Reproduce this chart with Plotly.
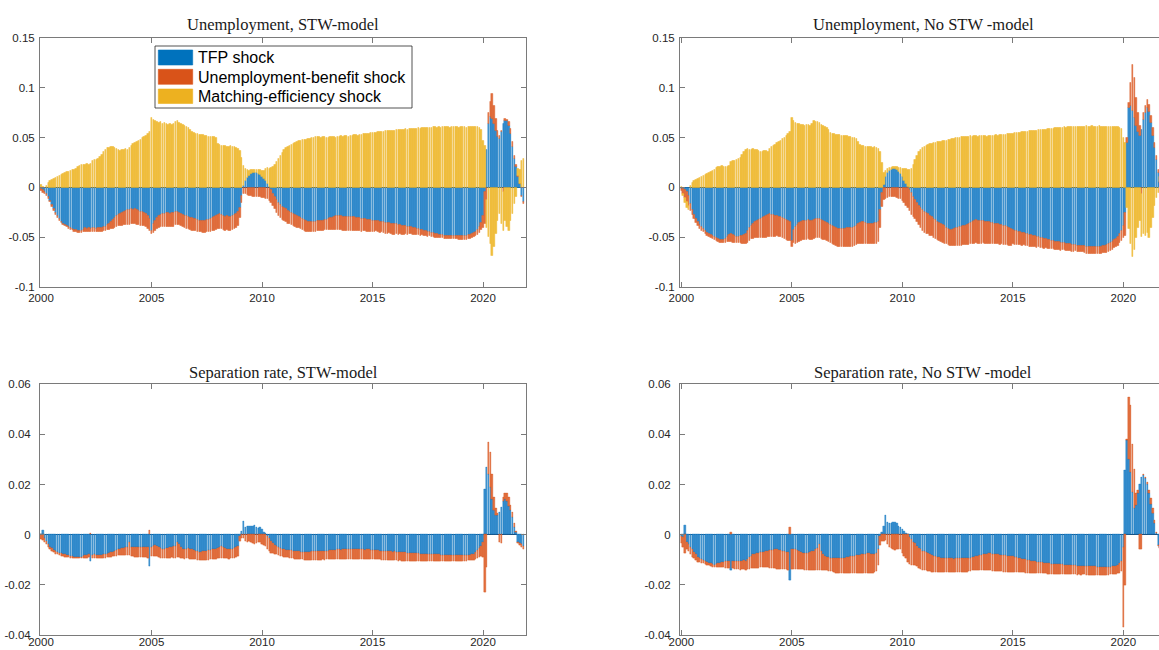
import numpy as np
import plotly.graph_objects as go

# ---------------- data (monthly, 2000M1 - 2021M11) ----------------
START_YEAR = 2000
N_MONTHS = 263

# Unemployment, STW-model (units: 0.001)
U_STW_TFP = [
    -1, -2, -4, -6, -9, -13, -17, -21, -25, -28, -31, -34,
    -36, -37, -38, -39, -40, -41, -42, -42, -43, -43, -43, -42,
    -40, -41, -40, -41, -40, -40, -41, -40, -40, -40, -39, -39,
    -37, -36, -34, -32, -30, -28, -27, -26, -25, -24, -23, -22,
    -22, -21, -22, -21, -22, -23, -24, -24, -25, -26, -28, -31,
    -43, -36, -33, -30, -28, -27, -26, -26, -25, -25, -26, -25,
    -25, -24, -24, -25, -26, -27, -28, -28, -29, -30, -30, -31,
    -31, -32, -33, -33, -33, -33, -32, -32, -31, -30, -29, -28,
    -27, -26, -27, -28, -29, -28, -29, -29, -28, -27, -26, -24,
    -20, -8, 2, 7, 10, 12, 14, 15, 15, 15, 14, 13,
    11, 9, 7, 4, 1, -2, -6, -9, -12, -15, -17, -19,
    -20, -21, -23, -24, -25, -26, -27, -28, -29, -30, -31, -32,
    -33, -34, -34, -34, -34, -34, -33, -33, -33, -33, -32, -32,
    -31, -30, -30, -29, -28, -28, -28, -28, -29, -29, -29, -29,
    -29, -29, -29, -30, -30, -30, -31, -31, -31, -32, -32, -32,
    -33, -33, -33, -33, -34, -34, -34, -35, -35, -35, -36, -36,
    -36, -36, -37, -37, -38, -38, -38, -39, -39, -39, -40, -40,
    -41, -41, -42, -42, -43, -43, -44, -44, -45, -45, -46, -46,
    -47, -47, -47, -48, -48, -48, -48, -48, -48, -48, -48, -48,
    -48, -48, -48, -48, -47, -47, -46, -45, -44, -42, -39, -35,
    -28, -4, 38, 64, 71, 69, 64, 57, 51, 49, 56, 64,
    67, 67, 62, 54, 41, 29, 21, 11, 4, -8, -14,
]
U_STW_UB = [
    -2, -3, -2, -2, -2, -1, -2, -2, -2, -2, -2, -1,
    -1, -1, -1, -2, -2, -1, -2, -2, -2, -2, -2, -2,
    -4, -3, -4, -3, -4, -4, -3, -4, -4, -4, -4, -4,
    -5, -6, -7, -9, -10, -11, -11, -12, -13, -13, -14, -15,
    -15, -15, -14, -15, -15, -14, -14, -14, -13, -13, -13, -12,
    -3, -9, -10, -11, -12, -12, -13, -13, -14, -14, -13, -14,
    -14, -13, -13, -12, -12, -12, -12, -13, -12, -12, -13, -12,
    -12, -12, -11, -11, -12, -12, -12, -12, -13, -13, -14, -14,
    -14, -15, -14, -14, -14, -14, -14, -14, -14, -14, -14, -14,
    -10, -7, -6, -6, -7, -8, -8, -9, -9, -9, -9, -9,
    -10, -10, -11, -11, -13, -13, -12, -12, -13, -13, -13, -13,
    -13, -13, -13, -12, -12, -12, -12, -12, -11, -11, -11, -11,
    -11, -10, -10, -10, -10, -10, -10, -10, -10, -10, -10, -10,
    -11, -12, -12, -13, -14, -14, -14, -14, -14, -14, -14, -14,
    -14, -14, -14, -13, -13, -13, -13, -12, -12, -12, -12, -12,
    -11, -11, -10, -11, -11, -10, -11, -11, -11, -10, -10, -11,
    -11, -10, -10, -9, -9, -9, -8, -8, -7, -7, -7, -7,
    -6, -6, -6, -5, -5, -5, -5, -4, -4, -4, -4, -4,
    -3, -3, -3, -3, -3, -3, -3, -3, -3, -3, -3, -4,
    -4, -4, -4, -4, -4, -4, -4, -4, -4, -5, -6, -7,
    -12, -32, -12, 11, 15, 25, 18, 12, 6, 3, 1, -4,
    2, 1, 4, 5, 5, 3, 2, 1, 0, -1, -2,
]
U_STW_ME = [
    3, 1, 0, 2, 5, 7, 8, 9, 10, 11, 12, 13,
    14, 15, 16, 16, 17, 18, 18, 19, 21, 22, 23, 23,
    23, 24, 23, 24, 27, 28, 28, 29, 31, 33, 36, 38,
    40, 40, 41, 41, 40, 39, 38, 37, 38, 38, 39, 38,
    40, 42, 44, 45, 46, 47, 48, 50, 51, 52, 54, 56,
    70, 68, 67, 66, 65, 66, 64, 65, 64, 63, 64, 63,
    64, 66, 67, 65, 64, 63, 62, 61, 60, 58, 56, 55,
    54, 54, 53, 53, 53, 52, 52, 51, 51, 51, 51, 50,
    44, 43, 42, 42, 42, 41, 41, 42, 41, 41, 40, 39,
    37, 30, 20, 12, 8, 5, 4, 3, 3, 3, 4, 5,
    6, 8, 12, 16, 18, 20, 21, 23, 26, 29, 32, 35,
    38, 40, 41, 42, 43, 44, 45, 46, 47, 47, 48, 48,
    48, 49, 49, 50, 50, 51, 51, 51, 50, 51, 51, 50,
    50, 51, 51, 51, 50, 51, 51, 52, 51, 52, 52, 51,
    52, 52, 53, 53, 52, 53, 53, 54, 54, 54, 54, 55,
    55, 55, 55, 56, 56, 56, 56, 57, 57, 57, 57, 57,
    57, 58, 58, 58, 58, 58, 59, 58, 59, 59, 59, 59,
    59, 60, 59, 60, 60, 60, 60, 60, 60, 61, 61, 60,
    61, 60, 61, 61, 61, 61, 60, 61, 61, 61, 61, 60,
    61, 61, 61, 60, 61, 61, 61, 61, 61, 61, 60, 58,
    47, 42, -28, -49, -56, -68, -59, -46, -33, -26, -36, -39,
    -33, -39, -43, -33, -26, -16, -9, 7, 14, 27, 29,
]

# Unemployment, No STW -model (units: 0.001)
U_NO_TFP = [
    -1, -1, -2, -4, -8, -16, -22, -27, -31, -34, -37, -39,
    -41, -43, -45, -46, -47, -48, -49, -50, -51, -52, -52, -52,
    -51, -49, -47, -46, -47, -48, -49, -49, -48, -48, -47, -46,
    -43, -40, -38, -36, -34, -33, -32, -31, -30, -29, -28, -27,
    -26, -27, -27, -28, -28, -29, -29, -30, -31, -32, -33, -34,
    -53, -42, -39, -37, -35, -34, -33, -33, -33, -32, -33, -33,
    -32, -31, -31, -31, -32, -33, -34, -35, -36, -37, -38, -39,
    -40, -41, -41, -41, -41, -41, -40, -40, -40, -40, -39, -38,
    -36, -35, -34, -34, -35, -36, -36, -36, -36, -35, -35, -34,
    -22, -5, 3, 11, 15, 17, 18, 19, 19, 18, 16, 14,
    11, 7, 4, 1, -2, -5, -9, -12, -15, -18, -20, -22,
    -24, -25, -26, -28, -29, -31, -32, -34, -35, -36, -37, -38,
    -40, -41, -42, -42, -41, -40, -40, -39, -39, -38, -38, -37,
    -36, -35, -34, -33, -32, -33, -33, -33, -33, -34, -34, -34,
    -35, -35, -36, -36, -36, -37, -37, -38, -38, -39, -40, -41,
    -42, -43, -43, -44, -44, -45, -45, -46, -46, -47, -47, -48,
    -48, -49, -49, -50, -50, -51, -51, -52, -52, -53, -53, -54,
    -54, -54, -55, -55, -55, -56, -56, -56, -57, -57, -57, -58,
    -58, -58, -58, -58, -59, -59, -59, -59, -59, -59, -59, -59,
    -59, -58, -58, -57, -56, -55, -54, -52, -51, -49, -46, -43,
    -38, -25, 45, 80, 82, 77, 70, 62, 56, 52, 58, 68,
    75, 80, 76, 65, 52, 40, 28, 15, 5, -5, -12,
]
U_NO_UB = [
    -2, -5, -8, -10, -10, -7, -5, -4, -4, -4, -4, -4,
    -3, -3, -3, -3, -3, -3, -3, -3, -3, -3, -3, -3,
    -4, -5, -7, -8, -8, -7, -6, -6, -7, -8, -9, -10,
    -12, -13, -13, -15, -16, -17, -18, -19, -20, -21, -22, -22,
    -23, -22, -22, -21, -20, -20, -20, -20, -20, -20, -20, -19,
    -6, -13, -17, -18, -19, -19, -19, -19, -19, -19, -19, -19,
    -19, -19, -19, -19, -19, -19, -18, -18, -18, -18, -18, -18,
    -18, -18, -18, -18, -18, -18, -19, -19, -19, -19, -19, -19,
    -20, -21, -22, -22, -21, -20, -20, -20, -20, -21, -21, -20,
    -18, -14, -12, -11, -10, -9, -9, -9, -9, -10, -11, -11,
    -13, -15, -18, -20, -21, -22, -20, -19, -19, -19, -20, -21,
    -21, -21, -20, -20, -19, -19, -19, -18, -18, -18, -18, -18,
    -16, -16, -16, -16, -17, -18, -18, -19, -19, -19, -19, -20,
    -21, -21, -22, -23, -23, -23, -23, -23, -22, -22, -22, -22,
    -21, -21, -20, -20, -20, -20, -19, -19, -19, -18, -18, -17,
    -14, -14, -14, -13, -13, -13, -12, -12, -12, -12, -12, -11,
    -11, -11, -10, -10, -10, -10, -9, -9, -9, -8, -8, -8,
    -8, -8, -8, -7, -7, -7, -7, -7, -7, -7, -6, -6,
    -6, -6, -6, -7, -7, -7, -7, -7, -7, -7, -7, -7,
    -7, -7, -7, -8, -8, -8, -8, -8, -8, -9, -9, -10,
    -12, -23, 5, 5, 23, 46, 40, 28, 19, 10, -6, 7,
    7, 8, 7, 7, 8, 5, 4, 3, 1, -1, -2,
]
U_NO_ME = [
    1, -2, -5, -6, -4, 2, 5, 7, 8, 9, 10, 11,
    12, 13, 14, 15, 16, 17, 18, 20, 21, 21, 22, 21,
    21, 21, 22, 26, 27, 27, 28, 29, 30, 33, 36, 38,
    39, 38, 38, 39, 38, 38, 37, 36, 36, 37, 37, 36,
    39, 41, 42, 43, 45, 46, 47, 49, 50, 52, 54, 56,
    70, 67, 65, 64, 64, 63, 63, 62, 63, 63, 62, 64,
    67, 66, 66, 65, 63, 62, 61, 60, 58, 55, 54, 54,
    53, 53, 53, 52, 52, 52, 52, 51, 51, 50, 50, 49,
    46, 43, 42, 42, 41, 41, 41, 41, 40, 41, 40, 39,
    36, 25, 12, 6, 4, 3, 2, 2, 2, 3, 4, 6,
    8, 12, 15, 17, 18, 19, 23, 28, 32, 36, 38, 40,
    41, 42, 43, 44, 44, 45, 45, 46, 46, 46, 47, 47,
    47, 48, 48, 49, 49, 50, 50, 50, 51, 51, 51, 51,
    51, 52, 51, 52, 52, 51, 52, 52, 52, 52, 51, 52,
    52, 52, 52, 53, 52, 53, 53, 53, 53, 54, 54, 54,
    54, 55, 55, 55, 55, 56, 56, 56, 56, 57, 57, 57,
    57, 57, 58, 58, 58, 58, 58, 59, 59, 59, 59, 60,
    60, 60, 60, 60, 61, 60, 61, 61, 61, 61, 61, 61,
    61, 61, 61, 61, 62, 61, 61, 62, 61, 61, 61, 62,
    61, 61, 61, 61, 61, 61, 61, 61, 61, 61, 60, 59,
    50, 45, -20, -41, -56, -69, -62, -50, -40, -33, -43, -46,
    -48, -45, -50, -40, -30, -18, -10, -5, 5, 15, 22,
]

# Separation rate, STW-model (units: 0.0001)
S_STW_TFP = [
    0, 17, -15, -28, -40, -50, -56, -62, -67, -70, -73, -76,
    -78, -80, -82, -84, -86, -88, -89, -90, -90, -90, -89, -88,
    -83, -82, -80, -105, -81, -80, -81, -82, -81, -82, -80, -79,
    -77, -75, -72, -70, -68, -64, -60, -57, -56, -55, -50, -52,
    -32, -52, -50, -49, -50, -51, -50, -49, -50, -51, -52, -126,
    -50, -45, -43, -46, -50, -55, -60, -58, -56, -54, -52, -50,
    -48, -45, -30, -40, -50, -58, -60, -58, -55, -57, -60, -62,
    -65, -68, -70, -70, -68, -66, -65, -64, -62, -60, -60, -58,
    -55, -50, -48, -52, -55, -58, -60, -60, -58, -56, -50, -45,
    -5, 15, 55, 30, 33, 32, 33, 35, 37, 30, 24, 28,
    20, 10, 5, -5, -15, -25, -35, -42, -48, -52, -55, -58,
    -60, -61, -62, -63, -64, -65, -66, -67, -68, -69, -69, -70,
    -70, -69, -69, -68, -68, -67, -68, -67, -67, -66, -66, -66,
    -65, -64, -63, -62, -61, -60, -60, -61, -60, -59, -60, -60,
    -60, -59, -59, -58, -59, -60, -60, -60, -61, -60, -60, -61,
    -61, -62, -63, -64, -65, -66, -66, -67, -67, -68, -68, -69,
    -68, -69, -70, -70, -71, -72, -72, -73, -74, -74, -75, -75,
    -76, -76, -77, -77, -78, -78, -79, -79, -79, -80, -80, -80,
    -80, -81, -81, -81, -82, -82, -82, -82, -83, -83, -83, -83,
    -83, -83, -82, -82, -82, -81, -80, -78, -72, -64, -56, -48,
    -30, 180, 270, 240, 190, 140, 97, 77, 77, 90, 110, 135,
    140, 135, 115, 97, 70, 30, 8, -30, -36, -40, -45,
]
S_STW_UB = [
    -20, -22, -15, -12, -10, -10, -10, -10, -10, -10, -10, -10,
    -10, -9, -8, -8, -7, -6, -6, -6, -6, -6, -7, -8,
    -10, -11, -12, 7, -12, -13, -13, -14, -14, -14, -15, -15,
    -15, -16, -17, -18, -19, -21, -23, -25, -26, -27, -32, -30,
    -50, -36, -38, -40, -40, -39, -40, -41, -41, -40, -41, 17,
    -38, -40, -42, -42, -40, -38, -36, -37, -38, -40, -42, -42,
    -45, -48, -62, -52, -44, -38, -37, -38, -40, -40, -39, -38,
    -35, -33, -31, -31, -33, -35, -36, -37, -38, -40, -40, -42,
    -40, -45, -46, -42, -40, -38, -37, -36, -37, -38, -40, -40,
    -20, -14, -16, -25, -30, -28, -30, -35, -40, -35, -30, -32,
    -38, -43, -48, -52, -52, -50, -40, -35, -32, -30, -30, -30,
    -30, -30, -30, -31, -31, -31, -31, -31, -31, -31, -31, -31,
    -31, -32, -32, -33, -33, -34, -33, -34, -34, -34, -35, -34,
    -35, -36, -36, -37, -38, -38, -38, -37, -38, -39, -38, -38,
    -38, -39, -39, -40, -39, -38, -38, -38, -37, -38, -38, -37,
    -37, -36, -36, -35, -35, -35, -35, -34, -35, -34, -35, -34,
    -36, -35, -35, -34, -34, -33, -33, -32, -32, -31, -31, -31,
    -30, -30, -29, -29, -28, -28, -28, -27, -27, -27, -26, -26,
    -26, -25, -25, -25, -24, -24, -24, -24, -23, -23, -23, -23,
    -23, -23, -23, -23, -22, -22, -22, -23, -26, -30, -35, -40,
    -60, -230, -130, 130, 140, 100, 53, 27, 7, -30, -35, 15,
    25, 30, 35, 20, 20, 14, 5, -3, -5, -10, -15,
]

# Separation rate, No STW -model (units: 0.0001)
S_NO_TFP = [
    -5, -10, 37, -30, -40, -50, -60, -70, -80, -90, -96, -100,
    -103, -106, -110, -112, -115, -118, -120, -118, -115, -113, -110, -108,
    -107, -106, -105, -143, -105, -105, -106, -105, -106, -105, -104, -105,
    -100, -92, -85, -80, -78, -76, -74, -72, -70, -69, -67, -66,
    -64, -62, -61, -60, -60, -62, -64, -65, -67, -69, -70, -180,
    -60, -58, -60, -63, -66, -70, -74, -76, -75, -73, -70, -68,
    -65, -60, -55, -40, -65, -80, -88, -90, -92, -94, -95, -96,
    -96, -96, -96, -95, -94, -93, -91, -90, -88, -86, -85, -84,
    -83, -82, -80, -79, -77, -76, -76, -78, -80, -78, -76, -60,
    -5, 10, 35, 77, 50, 44, 46, 48, 50, 45, 32, 28,
    20, 12, 5, 0, -10, -20, -30, -36, -45, -55, -60, -65,
    -68, -72, -76, -78, -82, -85, -88, -90, -92, -94, -96, -96,
    -96, -96, -95, -96, -97, -96, -96, -95, -96, -96, -95, -96,
    -95, -94, -92, -90, -88, -86, -84, -82, -80, -78, -77, -76,
    -76, -77, -78, -79, -80, -81, -82, -83, -84, -85, -86, -87,
    -88, -90, -92, -94, -96, -97, -98, -100, -101, -103, -105, -106,
    -107, -108, -109, -110, -111, -112, -113, -114, -115, -116, -116, -117,
    -118, -118, -119, -119, -120, -121, -122, -122, -122, -123, -123, -124,
    -124, -125, -125, -125, -126, -126, -126, -127, -127, -127, -128, -128,
    -130, -130, -130, -129, -129, -128, -127, -126, -124, -120, -115, -105,
    -50, 257, 376, 300, 250, 170, 104, 117, 164, 200, 230, 237,
    224, 200, 164, 120, 84, 44, 4, -43, -50, -55, -60,
]
S_NO_UB = [
    -30, -40, -76, -30, -28, -27, -30, -25, -22, -18, -15, -14,
    -12, -11, -10, -10, -10, -10, -10, -12, -15, -17, -20, -22,
    -25, -27, -28, 8, -30, -31, -32, -33, -34, -34, -35, -35,
    -38, -44, -50, -55, -56, -57, -58, -59, -60, -61, -63, -64,
    -70, -72, -74, -75, -76, -74, -73, -72, -71, -70, -70, 28,
    -76, -78, -76, -74, -70, -67, -65, -64, -65, -67, -70, -72,
    -75, -80, -85, -100, -76, -62, -55, -53, -52, -51, -52, -54,
    -56, -57, -57, -58, -59, -60, -62, -63, -65, -67, -68, -69,
    -70, -71, -73, -74, -76, -77, -77, -75, -72, -70, -68, -60,
    -36, -28, -25, -23, -40, -50, -55, -60, -62, -60, -58, -60,
    -76, -85, -95, -110, -108, -100, -90, -84, -80, -78, -76, -75,
    -73, -71, -69, -68, -66, -64, -61, -59, -57, -56, -54, -54,
    -54, -54, -55, -54, -53, -54, -54, -55, -54, -53, -54, -53,
    -50, -50, -51, -52, -54, -56, -58, -60, -62, -64, -66, -67,
    -67, -67, -66, -66, -66, -65, -65, -65, -64, -64, -63, -63,
    -62, -60, -58, -56, -55, -54, -53, -52, -51, -50, -49, -48,
    -46, -45, -45, -44, -44, -43, -42, -42, -41, -40, -40, -40,
    -39, -39, -38, -38, -38, -37, -37, -37, -37, -36, -36, -36,
    -35, -35, -34, -34, -34, -34, -34, -33, -33, -33, -33, -33,
    -31, -31, -31, -31, -31, -31, -31, -31, -32, -34, -37, -42,
    -320, -200, 5, 250, 265, 190, 156, 47, 13, -60, -60, 3,
    6, 10, 13, 24, 20, 13, 6, -3, -5, -8, -10,
]

SERIES_NAMES = ["TFP shock", "Unemployment-benefit shock", "Matching-efficiency shock"]
PANEL_TITLES = ["Unemployment, STW-model", "Unemployment, No STW -model",
                "Separation rate, STW-model", "Separation rate, No STW -model"]
YEAR_TICKS = [2000, 2005, 2010, 2015, 2020]
U_TICKS = [-0.1, -0.05, 0, 0.05, 0.1, 0.15]
U_TICKTEXT = ["-0.1", "-0.05", "0", "0.05", "0.1", "0.15"]
S_TICKS = [-0.04, -0.02, 0, 0.02, 0.04, 0.06]
S_TICKTEXT = ["-0.04", "-0.02", "0", "0.02", "0.04", "0.06"]

# ---------------- figure ----------------
W, H = 1159, 650
FILL = ["#3a8fd0", "#e2703f", "#f0c040"]
EDGE = ["#0072BD", "#D95319", "#EDB120"]

months = START_YEAR + np.arange(N_MONTHS) / 12.0

fig = go.Figure()

panels = [
    ("x", "y", [np.array(U_STW_TFP) * 1e-3, np.array(U_STW_UB) * 1e-3, np.array(U_STW_ME) * 1e-3]),
    ("x2", "y2", [np.array(U_NO_TFP) * 1e-3, np.array(U_NO_UB) * 1e-3, np.array(U_NO_ME) * 1e-3]),
    ("x3", "y3", [np.array(S_STW_TFP) * 1e-4, np.array(S_STW_UB) * 1e-4]),
    ("x4", "y4", [np.array(S_NO_TFP) * 1e-4, np.array(S_NO_UB) * 1e-4]),
]

for xa, ya, series in panels:
    for k, vals in enumerate(series):
        fig.add_trace(go.Bar(
            x=months, y=vals, xaxis=xa, yaxis=ya,
            name=SERIES_NAMES[k], showlegend=False,
            width=0.8 / 12,
            marker=dict(color=FILL[k], line=dict(color=EDGE[k], width=0.4)),
        ))

def px_x(p):
    return p / W

def px_y(p):
    return 1 - p / H

LEFT_L, LEFT_R = 40, 526
RIGHT_L = 680
TOP_T, TOP_B = 37.7, 287.3
BOT_T, BOT_B = 384.3, 635.0
PX_PER_YEAR = 22.1

left_range = [2000 + (LEFT_L - 41) / PX_PER_YEAR, 2000 + (LEFT_R - 41) / PX_PER_YEAR]
right_range = [2000 + (RIGHT_L - 681.3) / PX_PER_YEAR, 2000 + (W - 681.3) / PX_PER_YEAR]

axis_common = dict(
    showgrid=False, showline=True, linecolor="#7a7a7a", linewidth=1,
    ticks="inside", ticklen=5, tickcolor="#7a7a7a", tickwidth=1,
    tickfont=dict(family="Liberation Sans, Arial, sans-serif", size=11.5, color="#262626"),
    zeroline=False, automargin=False,
)

def xaxis(domain, rng, anchor, mirror, standoff):
    d = dict(axis_common)
    d.update(domain=domain, range=rng, anchor=anchor, tickvals=YEAR_TICKS,
             ticktext=[str(t) for t in YEAR_TICKS], mirror=mirror,
             ticklabelstandoff=standoff)
    return d

def yaxis(domain, rng, anchor, ticks, text, mirror, standoff):
    d = dict(axis_common)
    d.update(domain=domain, range=rng, anchor=anchor, tickvals=ticks, ticktext=text,
             mirror=mirror, zeroline=True, zerolinecolor="#1f4e79", zerolinewidth=1,
             layer="above traces", ticklabelstandoff=standoff)
    return d

xl = [px_x(LEFT_L), px_x(LEFT_R)]
xr = [px_x(RIGHT_L), 1.0]
yt = [px_y(TOP_B), px_y(TOP_T)]
yb = [px_y(BOT_B), px_y(BOT_T)]

fig.update_layout(
    width=W, height=H,
    margin=dict(l=0, r=0, t=0, b=0, autoexpand=False),
    paper_bgcolor="white", plot_bgcolor="white",
    barmode="relative", bargap=0,
    showlegend=False,
    xaxis=xaxis(xl, left_range, "y", "ticks", 0),
    yaxis=yaxis(yt, [-0.1, 0.15], "x", U_TICKS, U_TICKTEXT, "ticks", 2),
    xaxis2=xaxis(xr, right_range, "y2", "ticks", 0),
    yaxis2=yaxis(yt, [-0.1, 0.15], "x2", U_TICKS, U_TICKTEXT, False, 2),
    xaxis3=xaxis(xl, left_range, "y3", "ticks", -4),
    yaxis3=yaxis(yb, [-0.04, 0.06], "x3", S_TICKS, S_TICKTEXT, "ticks", 6),
    xaxis4=xaxis(xr, right_range, "y4", "ticks", -4),
    yaxis4=yaxis(yb, [-0.04, 0.06], "x4", S_TICKS, S_TICKTEXT, False, 6),
)

# titles
title_font = dict(family="Liberation Serif, DejaVu Serif, serif", size=16.5, color="#1a1a1a")
full_right_width = LEFT_R - LEFT_L
title_pos = [
    ((LEFT_L + LEFT_R) / 2, 24),
    ((RIGHT_L + RIGHT_L + full_right_width) / 2, 24),
    ((LEFT_L + LEFT_R) / 2, 372),
    ((RIGHT_L + RIGHT_L + full_right_width) / 2, 372),
]
for t, (cx, cy) in zip(PANEL_TITLES, title_pos):
    fig.add_annotation(text=t, x=px_x(cx), y=px_y(cy), xref="paper", yref="paper",
                       xanchor="center", yanchor="middle", showarrow=False, font=title_font)

# legend box (MATLAB style) in the first panel
fig.add_shape(type="rect", xref="paper", yref="paper",
              x0=px_x(155), x1=px_x(412), y0=px_y(108), y1=px_y(46),
              line=dict(color="#262626", width=0.8), fillcolor="white", layer="above")
leg_rows = [(50, 65, 57.5), (69.3, 84.3, 77), (89, 103.5, 96.3)]
for k, (top, bot, mid) in enumerate(leg_rows):
    fig.add_shape(type="rect", xref="paper", yref="paper",
                  x0=px_x(158.3), x1=px_x(192.7), y0=px_y(bot), y1=px_y(top),
                  line=dict(color=EDGE[k], width=0.6), fillcolor=EDGE[k], layer="above")
    fig.add_annotation(text=SERIES_NAMES[k], x=px_x(196), y=px_y(mid), xref="paper", yref="paper",
                       xanchor="left", yanchor="middle", showarrow=False,
                       font=dict(family="Liberation Sans, Arial, sans-serif", size=16, color="#000000"))

# remove the browser's default 8px body margin so the figure sits at the window origin
fig.write_html("out.html", config={"displayModeBar": False},
               post_script="document.body.style.margin='0';")
